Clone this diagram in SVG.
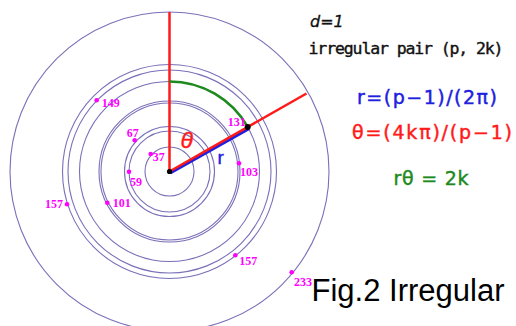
<svg xmlns="http://www.w3.org/2000/svg" width="516" height="326" viewBox="0 0 516 326">
<style>
.orb{fill:none;stroke:#6a60b0;stroke-width:1.1;opacity:0.9}
.pt{fill:#ff00ff}
.pl{fill:#ff00ff;font-family:"Liberation Serif",serif;font-weight:bold;font-size:12px}
.txt{font-family:"Liberation Sans",Arial,sans-serif}
.fm{font-family:"DejaVu Sans",sans-serif;font-size:19px;stroke-width:0.45}
</style>
<rect width="516" height="326" fill="#ffffff"/>
<g id="circles">
<circle class="orb" cx="169.5" cy="171.5" r="24.5"/>
<circle class="orb" cx="169.5" cy="171.5" r="40.5"/>
<circle class="orb" cx="169.5" cy="171.5" r="45"/>
<circle class="orb" cx="169.5" cy="171.5" r="68.5"/>
<circle class="orb" cx="169.5" cy="171.5" r="70.5"/>
<circle class="orb" cx="169.5" cy="171.5" r="90"/>
<circle class="orb" cx="169.5" cy="171.5" r="101.5"/>
<circle class="orb" cx="169.5" cy="171.5" r="107"/>
<circle class="orb" cx="169.5" cy="171.5" r="159.5"/>
</g>
<g id="connectors">
<line x1="169.5" y1="171.5" x2="169.5" y2="12" stroke="#ff1a1a" stroke-width="2.5"/>
<line x1="170.3" y1="172.9" x2="248.5" y2="128.9" stroke="#2020e0" stroke-width="3"/>
<line x1="169.5" y1="171.5" x2="306.5" y2="93.5" stroke="#ff1a1a" stroke-width="2.5"/>
<path d="M169.5 81.5 A90 90 0 0 1 247.7 127" fill="none" stroke="#1e8a1e" stroke-width="2.6"/>
<circle cx="169.5" cy="171.5" r="2.6" fill="#000"/>
<circle cx="247.7" cy="127" r="3" fill="#000"/>
</g>
<g id="points">
<circle class="pt" cx="150.7" cy="154" r="2.3"/>
<text class="pl" x="152.7" y="160.5">37</text>
<circle class="pt" cx="134.7" cy="140.3" r="2.3"/>
<text class="pl" x="126.7" y="136.5">67</text>
<circle class="pt" cx="129" cy="171.7" r="2.3"/>
<text class="pl" x="130" y="185.5">59</text>
<circle class="pt" cx="96.7" cy="100.3" r="2.3"/>
<text class="pl" x="101.7" y="106.5">149</text>
<circle class="pt" cx="107.3" cy="202.7" r="2.3"/>
<text class="pl" x="112.7" y="206.5">101</text>
<circle class="pt" cx="67" cy="204.3" r="2.3"/>
<text class="pl" x="45" y="208">157</text>
<circle class="pt" cx="239" cy="163.3" r="2.3"/>
<text class="pl" x="240" y="175.5">103</text>
<text class="pl" x="227.7" y="125.5">131</text>
<circle class="pt" cx="235.3" cy="255.3" r="2.3"/>
<text class="pl" x="239.3" y="264.5">157</text>
<circle class="pt" cx="291.7" cy="272.3" r="2.3"/>
<text class="pl" x="294" y="285.5">233</text>
</g>
<g id="angle-labels">
<text class="txt" x="180.5" y="147.5" font-size="23" font-style="italic" fill="#ff1a1a" stroke="#ff1a1a" stroke-width="0.4">θ</text>
<text class="txt" x="217.5" y="163.5" font-size="19" fill="#2020e0" stroke="#2020e0" stroke-width="0.4">r</text>
</g>
<g id="formulas">
<text x="310" y="26.7" font-family="DejaVu Sans,sans-serif" font-size="16" font-style="italic" fill="#111" stroke="#111" stroke-width="0.3">d=1</text>
<text x="308.5" y="54" font-family="DejaVu Sans Mono,monospace" font-size="16.5" fill="#111" stroke="#111" stroke-width="0.4" textLength="195" lengthAdjust="spacing">irregular pair (p, 2k)</text>
<text class="fm" x="357" y="104" fill="#2020e0" stroke="#2020e0" textLength="140" lengthAdjust="spacing">r=(p−1)/(2π)</text>
<text class="fm" x="352" y="139.2" fill="#ff1a1a" stroke="#ff1a1a" textLength="160" lengthAdjust="spacing">θ=(4kπ)/(p−1)</text>
<text class="fm" x="393.5" y="185" fill="#1e8a1e" stroke="#1e8a1e" textLength="75" lengthAdjust="spacing">rθ = 2k</text>
<text class="txt" x="311.5" y="300.5" font-size="31" fill="#000">Fig.2 Irregular</text>
</g>
</svg>
